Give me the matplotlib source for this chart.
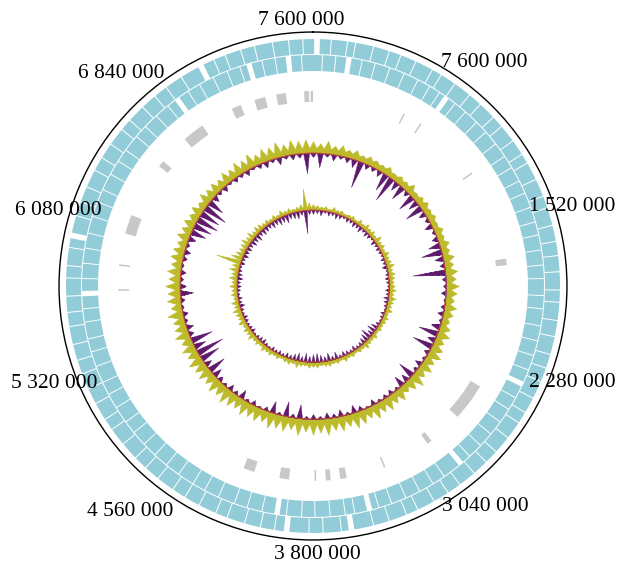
import numpy as np
import matplotlib
matplotlib.use("Agg")
import matplotlib.pyplot as plt

GENOME_MB = 7.6

# Scale labels, one every 0.76 Mb starting at the origin (text kept as printed)
LABEL_POS_MB = [0.0, 0.76, 1.52, 2.28, 3.04, 3.80, 4.56, 5.32, 6.08, 6.84]
LABEL_TEXT = ["7 600 000", "7 600 000", "1 520 000", "2 280 000", "3 040 000",
              "3 800 000", "4 560 000", "5 320 000", "6 080 000", "6 840 000"]

# CDS rings: positions (Mb) of gene boundaries, thin and wide gaps
CDS_FWD_THIN = [0.09, 0.17, 0.21, 0.30, 0.38, 0.44, 0.52, 0.61, 0.66, 0.74, 0.83, 0.90,
                0.99, 1.05, 1.14, 1.22, 1.27, 1.36, 1.45, 1.51, 1.60, 1.68, 1.75, 1.83,
                1.92, 1.98, 2.07, 2.15, 2.24, 2.31, 2.38, 2.47, 2.55, 2.61, 2.70, 2.79,
                2.86, 2.94, 3.03, 3.10, 3.18, 3.27, 3.33, 3.42, 3.50, 3.66, 3.75, 3.82,
                3.99, 4.06, 4.14, 4.23, 4.29, 4.38, 4.46, 4.53, 4.62, 4.70, 4.77, 4.86,
                4.95, 5.01, 5.10, 5.18, 5.26, 5.33, 5.41, 5.50, 5.57, 5.65, 5.74, 5.80,
                5.89, 6.05, 6.12, 6.20, 6.29, 6.36, 6.44, 6.53, 6.59, 6.68, 6.76, 6.83,
                6.92, 7.10, 7.16, 7.24, 7.31, 7.40, 7.48, 7.55]
CDS_FWD_WIDE = [0.02, 3.61, 3.93, 5.95, 7.03]
CDS_REV_THIN = [0.05, 0.12, 0.26, 0.33, 0.41, 0.49, 0.57, 0.64, 0.70, 0.80, 0.87, 0.95,
                1.02, 1.10, 1.18, 1.25, 1.33, 1.40, 1.48, 1.56, 1.63, 1.71, 1.79, 1.86,
                1.95, 2.02, 2.11, 2.19, 2.27, 2.35, 2.51, 2.58, 2.66, 2.74, 2.82, 2.90,
                3.07, 3.14, 3.22, 3.30, 3.38, 3.45, 3.58, 3.63, 3.71, 3.79, 3.86, 3.94,
                4.07, 4.15, 4.22, 4.31, 4.39, 4.46, 4.55, 4.63, 4.71, 4.79, 4.87, 4.94,
                5.03, 5.11, 5.18, 5.27, 5.35, 5.42, 5.51, 5.58, 5.74, 5.82, 5.90, 5.98,
                6.07, 6.15, 6.22, 6.31, 6.39, 6.46, 6.55, 6.62, 6.70, 6.78, 6.91, 6.98,
                7.06, 7.14, 7.21, 7.33, 7.40, 7.54]
CDS_REV_WIDE = [0.19, 0.745, 2.43, 2.96, 3.50, 3.99, 5.66, 6.84, 7.26, 7.47]

# Grey features (rRNA / tRNA etc.): start and end in Mb
GREY_START = [7.545, 7.585, 7.37, 7.23, 7.08, 6.73, 6.50, 6.03, 5.825, 5.67, 4.17,
              3.95, 3.78, 3.69, 3.59, 3.34, 3.01, 2.555, 1.73, 1.148, 0.585, 0.705]
GREY_END = [7.575, 7.600, 7.43, 7.30, 7.14, 6.87, 6.54, 6.15, 5.835, 5.68, 4.24,
            4.01, 3.79, 3.72, 3.63, 3.35, 3.04, 2.79, 1.77, 1.158, 0.595, 0.715]

# GC tracks, one value every 3 degrees (120 windows), plotted in pixel units
GC1_UP = [12, 10, 13, 9, 11, 8, 10, 7, 9, 8,
          7, 9, 6, 8, 7, 10, 6, 8, 9, 7,
          8, 6, 9, 7, 10, 8, 11, 9, 12, 10,
          13, 11, 9, 12, 10, 8, 11, 13, 10, 12,
          14, 11, 13, 10, 15, 12, 9, 13, 11, 14,
          12, 15, 11, 14, 16, 12, 15, 13, 17, 14,
          16, 13, 17, 12, 15, 14, 16, 12, 14, 13,
          15, 12, 14, 16, 13, 15, 12, 14, 13, 15,
          12, 14, 11, 15, 13, 12, 16, 11, 14, 13,
          15, 12, 14, 11, 13, 12, 10, 13, 11, 12,
          10, 12, 9, 13, 11, 12, 10, 13, 11, 14,
          12, 15, 11, 14, 13, 16, 12, 15, 13, 14]
GC1_DOWN = [4, 14, 3, 6, 3, 5, 8, 27, 5, 4,
            6, 18, 26, 9, 15, 5, 17, 10, 18, 7,
            4, 8, 3, 6, 12, 21, 9, 5, 33, 4,
            3, 5, 2, 4, 6, 3, 9, 20, 8, 21,
            5, 3, 7, 4, 17, 8, 11, 3, 5, 4,
            3, 6, 2, 5, 8, 3, 7, 4, 6, 3,
            5, 3, 14, 4, 15, 3, 12, 4, 2, 5,
            3, 9, 4, 6, 3, 5, 9, 18, 7, 20,
            28, 12, 22, 5, 7, 3, 5, 2, 4, 13,
            6, 3, 5, 2, 4, 6, 3, 7, 15, 18,
            22, 20, 24, 16, 6, 3, 5, 2, 4, 3,
            5, 2, 4, 6, 3, 7, 3, 5, 4, 20]
GC2_UP = [6, 5, 4, 5, 3, 6, 4, 5, 3, 4,
          5, 3, 6, 4, 7, 5, 6, 4, 8, 5,
          6, 4, 7, 5, 6, 8, 5, 7, 6, 5,
          6, 7, 5, 8, 6, 5, 7, 4, 6, 5,
          4, 5, 3, 6, 4, 5, 7, 4, 5, 3,
          5, 4, 6, 3, 5, 4, 6, 5, 4, 6,
          5, 6, 4, 5, 7, 4, 6, 5, 3, 5,
          4, 6, 5, 7, 4, 6, 5, 8, 6, 7,
          5, 8, 6, 7, 9, 6, 8, 5, 7, 6,
          8, 6, 9, 7, 10, 8, 26, 12, 9, 7,
          8, 10, 7, 9, 6, 8, 7, 5, 6, 4,
          6, 4, 7, 5, 6, 4, 5, 7, 22, 8]
GC2_DOWN = [4, 3, 5, 2, 4, 3, 5, 4, 2, 4,
            3, 5, 4, 6, 3, 5, 4, 2, 5, 3,
            4, 3, 2, 4, 3, 5, 2, 3, 4, 3,
            2, 4, 3, 5, 4, 3, 2, 4, 3, 2,
            4, 7, 9, 6, 11, 8, 6, 4, 3, 5,
            3, 4, 5, 3, 7, 4, 8, 5, 7, 9,
            8, 6, 9, 5, 8, 6, 4, 5, 3, 4,
            3, 4, 2, 3, 5, 4, 3, 2, 4, 3,
            2, 3, 4, 2, 3, 5, 3, 4, 2, 3,
            4, 3, 5, 4, 3, 2, 4, 3, 5, 4,
            5, 4, 6, 5, 7, 4, 6, 5, 4, 6,
            5, 7, 6, 8, 5, 6, 7, 4, 23, 4]

LABEL_ANGLE = [-2.6, 37.5, 73.0, 110.5, 142.0, 179.0, 219.0, 249.4, 286.6, 318.0]
LABEL_RADIUS = [266, 282, 271, 277, 280, 269, 290, 276, 266, 286]

CDS_COLOR = "#92ccd8"
GREY_COLOR = "#c8c8c8"
UP_COLOR = "#bdbb2c"
DOWN_COLOR = "#5f1a6e"


def to_rad(mb):
    return np.asarray(mb) / GENOME_MB * 2 * np.pi


def draw_cds_ring(ax, thin, wide, r0, r1):
    cuts = sorted([(p, 0.005) for p in thin] + [(p, 0.028) for p in wide])
    for i, (p, w) in enumerate(cuts):
        q, w2 = cuts[(i + 1) % len(cuts)]
        start = p + w / 2
        end = q - w2 / 2
        if end <= start:
            end += GENOME_MB
        ax.bar(to_rad((start + end) / 2), r1 - r0, width=to_rad(end - start),
               bottom=r0, color=CDS_COLOR, edgecolor="none", linewidth=0)


def spike_track(ax, vals, base, sign, half, floor, color):
    # each window drawn as a spike from a thin band along the baseline
    step = 2 * np.pi / len(vals)
    th, rr = [], []
    for i, v in enumerate(vals):
        c = i * step
        th += [c - half * step, c, c + half * step]
        rr += [base + sign * floor, base + sign * v, base + sign * floor]
    th.append(2 * np.pi + (1 - half) * step)
    rr.append(base + sign * floor)
    ax.fill_between(np.array(th), base, np.array(rr), color=color, linewidth=0.3)


def draw_gc(ax, up, down, base, floor):
    spike_track(ax, up, base, 1, 0.5, floor, UP_COLOR)
    spike_track(ax, down, base, -1, 0.42, 0, DOWN_COLOR)
    ring = np.linspace(0, 2 * np.pi, 400)
    ax.plot(ring, np.full_like(ring, base), color="#d2452a", linewidth=0.6)


fig = plt.figure(figsize=(6.28, 5.72), dpi=100)
ax = fig.add_axes([0.0939, 0.056, 0.809, 0.888], projection="polar")
ax.set_theta_zero_location("N")
ax.set_theta_direction(-1)
ax.set_ylim(0, 254)

draw_cds_ring(ax, CDS_FWD_THIN, CDS_FWD_WIDE, 232, 247)
draw_cds_ring(ax, CDS_REV_THIN, CDS_REV_WIDE, 215, 231)

for s, e in zip(GREY_START, GREY_END):
    ax.bar(to_rad((s + e) / 2), 11, width=to_rad(e - s), bottom=184,
           color=GREY_COLOR, edgecolor="none")

draw_gc(ax, GC1_UP, GC1_DOWN, 133, 5)
draw_gc(ax, GC2_UP, GC2_DOWN, 76, 2.5)

ax.set_xticks(to_rad(np.arange(0, GENOME_MB, 0.38)))
ax.set_xticklabels([])
ax.tick_params(axis="x", direction="in", length=5, width=0.8, color="black")
ax.set_yticks([])
ax.grid(False)
ax.spines["polar"].set_linewidth(1.0)

for txt, ang, rad in zip(LABEL_TEXT, LABEL_ANGLE, LABEL_RADIUS):
    ax.text(np.deg2rad(ang), rad, txt, ha="center", va="center",
            fontsize=15.5, family="Liberation Serif", clip_on=False)

fig.savefig("out.png", dpi=100)
